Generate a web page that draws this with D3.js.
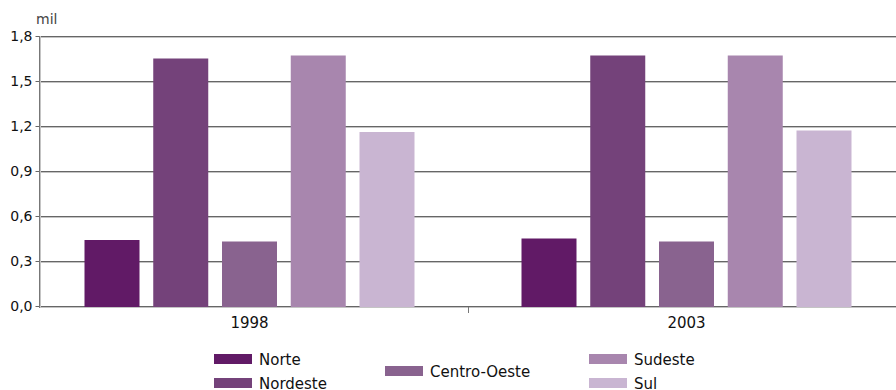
<!DOCTYPE html>
<html>
<head>
<meta charset="utf-8">
<script src="https://cdn.jsdelivr.net/npm/d3@7"></script>
<style>
  html, body { margin: 0; padding: 0; background: #fff; }
  svg { display: block; }
</style>
</head>
<body>
<svg id="chart" width="896" height="390"></svg>
<script>
const categories = ["1998", "2003"];
const seriesNames = ["Norte", "Nordeste", "Centro-Oeste", "Sudeste", "Sul"];
const values1998 = [0.44, 1.65, 0.43, 1.67, 1.16];
const values2003 = [0.45, 1.67, 0.43, 1.67, 1.17];
const tickValues = [0, 0.3, 0.6, 0.9, 1.2, 1.5, 1.8];
const tickLabels = ["0,0", "0,3", "0,6", "0,9", "1,2", "1,5", "1,8"];
const seriesColors = ["#611a66", "#74427a", "#89638f", "#a886ae", "#c9b5d2"];
const unitLabel = "mil";

const valuesByCat = { "1998": values1998, "2003": values2003 };

const svg = d3.select("#chart");
const font = "DejaVu Sans, Verdana, sans-serif";

const plotLeft = 39.5, plotRight = 896, y0px = 306, yTop = 36;

const y = d3.scaleLinear().domain([0, 1.8]).range([y0px, yTop]);
const x0 = d3.scaleBand().domain(categories).range([31, 905]).padding(0);
const x1 = d3.scaleBand().domain(seriesNames).range([-165, 165]).paddingInner(0.2).paddingOuter(0);
const color = d3.scaleOrdinal().domain(seriesNames).range(seriesColors);

// gridlines
const grid = svg.append("g");
tickValues.forEach(v => {
  const yy = Math.round(y(v));
  grid.append("line").attr("x1", plotLeft).attr("x2", plotRight)
    .attr("y1", yy + 0.5).attr("y2", yy + 0.5).attr("stroke", "#666").attr("stroke-width", 1);
  grid.append("line").attr("x1", plotLeft).attr("x2", plotRight)
    .attr("y1", yy + 1.5).attr("y2", yy + 1.5).attr("stroke", "#c4c4c4").attr("stroke-width", 1);
});

// bars
const groups = svg.append("g").selectAll("g").data(categories).join("g")
  .attr("transform", d => `translate(${x0(d) + x0.bandwidth() / 2},0)`);
groups.selectAll("rect")
  .data(c => seriesNames.map((s, i) => ({ s, v: valuesByCat[c][i] })))
  .join("rect")
  .attr("x", d => x1(d.s))
  .attr("width", x1.bandwidth())
  .attr("y", d => y(d.v))
  .attr("height", d => y(0) - y(d.v) + 1)
  .attr("fill", d => color(d.s));

// y axis
const yAxis = d3.axisLeft(y).tickValues(tickValues)
  .tickFormat((d, i) => tickLabels[i]).tickSize(4).tickPadding(3);
const yg = svg.append("g").attr("transform", `translate(${plotLeft},0)`).call(yAxis);
yg.select(".domain").remove();
yg.selectAll(".tick line").attr("stroke", "#666");
yg.selectAll(".tick text").attr("font-family", font).attr("font-size", 14).attr("fill", "#111");
svg.append("line").attr("x1", plotLeft).attr("x2", plotLeft).attr("y1", yTop).attr("y2", y0px + 2)
  .attr("stroke", "#777").attr("stroke-width", 1);
svg.append("line").attr("x1", plotLeft + 1).attr("x2", plotLeft + 1).attr("y1", yTop).attr("y2", y0px + 2)
  .attr("stroke", "#c4c4c4").attr("stroke-width", 1);

// unit label
svg.append("text").attr("x", 36).attr("y", 24).attr("font-family", font)
  .attr("font-size", 14).attr("fill", "#444").text(unitLabel);

// x axis category ticks (between groups) and labels
const boundaries = categories.slice(1).map(c => x0(c));
boundaries.forEach(bx => {
  svg.append("line").attr("x1", Math.round(bx) + 0.5).attr("x2", Math.round(bx) + 0.5)
    .attr("y1", y0px + 1).attr("y2", y0px + 7).attr("stroke", "#777");
});
svg.append("g").selectAll("text").data(categories).join("text")
  .attr("x", d => x0(d) + x0.bandwidth() / 2)
  .attr("y", 328)
  .attr("text-anchor", "middle")
  .attr("font-family", font).attr("font-size", 15).attr("fill", "#111")
  .text(d => d);

// legend
const legendPos = [
  { x: 214, y: 354 }, { x: 214, y: 378 }, { x: 385, y: 366 },
  { x: 589, y: 354 }, { x: 589, y: 378 }
];
const lg = svg.append("g").selectAll("g").data(seriesNames).join("g")
  .attr("transform", (d, i) => `translate(${legendPos[i].x},${legendPos[i].y})`);
lg.append("rect").attr("width", 38).attr("height", 10).attr("fill", d => color(d));
lg.append("text").attr("x", 45).attr("y", 10.5)
  .attr("font-family", font).attr("font-size", 15).attr("fill", "#111")
  .text(d => d);
</script>
</body>
</html>
